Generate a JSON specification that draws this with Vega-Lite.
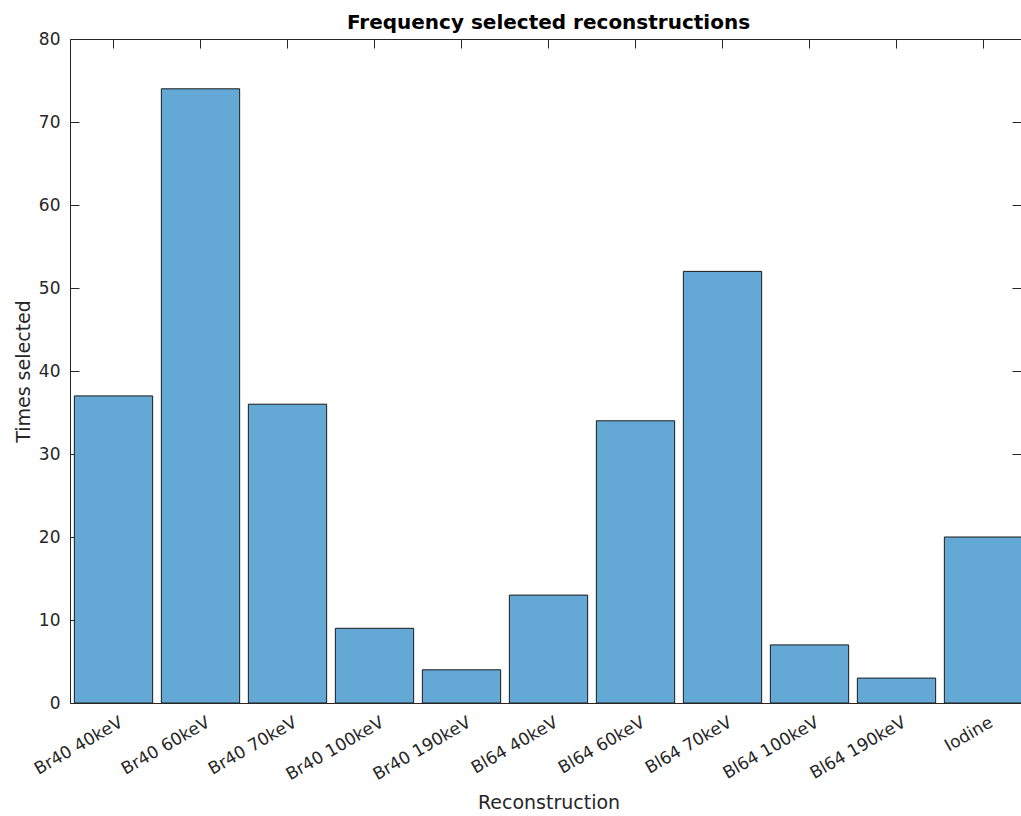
{
  "$schema": "https://vega.github.io/schema/vega-lite/v6.json",
  "autosize": {"type": "none"},
  "width": 951,
  "height": 664,
  "padding": {"left": 70, "top": 39, "right": 0, "bottom": 113},
  "background": "white",
  "config": {
    "view": {"stroke": null},
    "font": "DejaVu Sans",
    "axis": {"grid": false, "domainColor": "#262626", "tickColor": "#262626", "labelColor": "#262626", "titleColor": "#262626", "labelFont": "DejaVu Sans", "titleFont": "DejaVu Sans", "labelFontSize": 17, "titleFontSize": 19, "titleFontWeight": "normal"}
  },
  "title": {"text": "Frequency selected reconstructions", "fontSize": 20, "fontWeight": "bold", "font": "DejaVu Sans", "color": "#000000", "offset": -3, "dx": 3},
  "data": {"values": [
    {"recon": "Br40 40keV", "count": 37},
    {"recon": "Br40 60keV", "count": 74},
    {"recon": "Br40 70keV", "count": 36},
    {"recon": "Br40 100keV", "count": 9},
    {"recon": "Br40 190keV", "count": 4},
    {"recon": "Bl64 40keV", "count": 13},
    {"recon": "Bl64 60keV", "count": 34},
    {"recon": "Bl64 70keV", "count": 52},
    {"recon": "Bl64 100keV", "count": 7},
    {"recon": "Bl64 190keV", "count": 3},
    {"recon": "Iodine", "count": 20}
  ]},
  "layer": [
    {
      "mark": {"type": "bar", "fill": "#64a9d6", "stroke": "#1a1a1a", "strokeWidth": 1, "clip": true},
      "encoding": {
        "x": {"field": "recon", "type": "nominal", "sort": null,
          "scale": {"range": [0, 957], "paddingInner": 0.1, "paddingOuter": 0.05},
          "axis": {"orient": "bottom", "title": "Reconstruction", "labelAngle": -30, "labelAlign": "right", "labelBaseline": "top", "tickSize": -9, "labelPadding": 20, "labelOffset": 4, "titlePadding": 11, "domainWidth": 1}},
        "y": {"field": "count", "type": "quantitative",
          "scale": {"domain": [0, 80], "nice": false},
          "axis": {"orient": "left", "title": "Times selected", "values": [0,10,20,30,40,50,60,70,80], "tickSize": -9, "labelPadding": 19, "titlePadding": 5, "domainWidth": 1}}
      }
    },
    {
      "mark": {"type": "bar", "opacity": 0, "clip": true},
      "encoding": {
        "x": {"field": "recon", "type": "nominal", "sort": null,
          "axis": {"orient": "top", "title": null, "labels": false, "tickSize": -9, "domainWidth": 1}},
        "y": {"field": "count", "type": "quantitative",
          "axis": {"orient": "right", "title": null, "labels": false, "domain": false, "values": [0,10,20,30,40,50,60,70,80], "tickSize": -9}}
      }
    }
  ],
  "resolve": {"axis": {"x": "independent", "y": "independent"}}
}
